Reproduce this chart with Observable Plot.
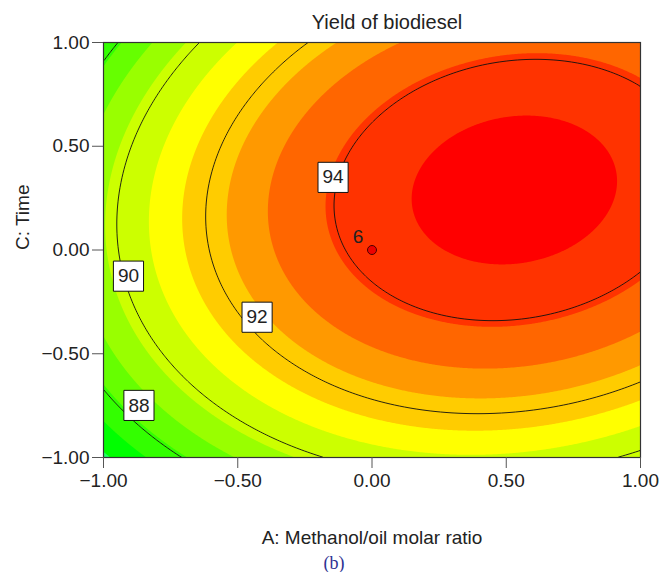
<!DOCTYPE html>
<html>
<head>
<meta charset="utf-8">
<script src="https://cdn.jsdelivr.net/npm/d3@7"></script>
<script src="https://cdn.jsdelivr.net/npm/@observablehq/plot@0.6"></script>
<style>
  body { margin: 0; background: #fff; }
  svg { display: block; }
</style>
</head>
<body>
<div id="chart"></div>
<script>
// ---- texts ----
const title = "Yield of biodiesel";
const xLabel = "A: Methanol/oil molar ratio";
const yLabel = "C: Time";
const caption = "(b)";

// ---- axes ----
const xTicks = [-1, -0.5, 0, 0.5, 1];
const yTicks = [-1, -0.5, 0, 0.5, 1];

// ---- fitted response-surface model (coded units) ----
// terms: intercept, A, C, AC, A², C²
const modelTerms = ["intercept", "A", "C", "AC", "A2", "C2"];
const modelCoefs = [94.25, 2.30, 1.22, 0.59, -2.33, -2.65];

// ---- contour lines and their labels ----
const lineLevels = [88, 90, 92, 94];
const labelLevels = [88, 90, 92, 94];
const labelA = [-0.868, -0.907, -0.428, -0.145];
const labelC = [-0.749, -0.126, -0.324, 0.350];

// ---- filled bands (boundaries) ----
const bandThresholds = [86.5, 87.3, 88.1, 88.9, 89.7, 90.78, 91.52, 92.4, 93.1, 93.9, 94.7];
const bandColors = ["#22ff66", "#00ff00", "#33ff00", "#66ff00", "#99ff00", "#ccff00",
                    "#ffff00", "#ffcc00", "#ff9900", "#ff6600", "#ff3300", "#ff0000"];

// ---- design point ----
const designA = [0];
const designC = [0];
const designRuns = ["6"];

const coef = Object.fromEntries(modelTerms.map((t, i) => [t, modelCoefs[i]]));
const yieldAt = (a, c) =>
  coef.intercept + coef.A * a + coef.C * c + coef.AC * a * c + coef.A2 * a * a + coef.C2 * c * c;

const fmt = d => d.toFixed(2).replace("-", "\u2212");
const font = "'Liberation Sans', Arial, Helvetica, sans-serif";

const plot = Plot.plot({
  width: 663,
  height: 572,
  marginLeft: 103,
  marginRight: 23,
  marginTop: 42,
  marginBottom: 115,
  style: { fontFamily: font, fontSize: "19px", color: "#222", background: "#fff" },
  x: { domain: [-1, 1] },
  y: { domain: [-1, 1] },
  color: { type: "threshold", domain: bandThresholds, range: bandColors },
  marks: [
    Plot.contour({
      x1: -1, y1: -1, x2: 1, y2: 1,
      value: yieldAt, fill: "value", stroke: "none",
      thresholds: [80, ...bandThresholds], pixelSize: 1
    }),
    Plot.contour({
      x1: -1, y1: -1, x2: 1, y2: 1,
      value: yieldAt, fill: "none", stroke: "#111", strokeWidth: 0.9,
      thresholds: lineLevels, pixelSize: 1
    }),
    Plot.frame({ stroke: "#333", strokeWidth: 1.2 }),
    Plot.axisX({ ticks: xTicks, tickFormat: fmt, tickSize: 11, tickPadding: 5, label: null, stroke: "#555" }),
    Plot.axisY({ ticks: yTicks, tickFormat: fmt, tickSize: 11, tickPadding: 3, label: null, stroke: "#555" }),
    // contour label boxes
    Plot.dot(labelLevels, {
      x: (d, i) => labelA[i], y: (d, i) => labelC[i],
      symbol: "square", r: 17, fill: "white", stroke: "#111", strokeWidth: 1
    }),
    Plot.text(labelLevels, {
      x: (d, i) => labelA[i], y: (d, i) => labelC[i],
      text: d => String(d), fontSize: 19, fill: "#222"
    }),
    // design point
    Plot.dot(designRuns, {
      x: (d, i) => designA[i], y: (d, i) => designC[i],
      r: 4.5, fill: "#ee0000", stroke: "#4a0000", strokeWidth: 1
    }),
    Plot.text(designRuns, {
      x: (d, i) => designA[i], y: (d, i) => designC[i],
      text: d => d, dx: -14, dy: -13, fontSize: 19, fill: "#222"
    }),
    // titles
    Plot.text([title], { frameAnchor: "top", lineAnchor: "middle", dy: -20, dx: 15, text: d => d, fontSize: 20, fill: "#222" }),
    Plot.text([yLabel], { frameAnchor: "left", lineAnchor: "middle", dx: -81, rotate: -90, text: d => d, fontSize: 19, fill: "#222" }),
    Plot.text([xLabel], { frameAnchor: "bottom", lineAnchor: "middle", dy: 80, text: d => d, fontSize: 19, fill: "#222" }),
    Plot.text([caption], {
      frameAnchor: "bottom", lineAnchor: "middle", dy: 106, dx: -38, text: d => d,
      fontSize: 18, fill: "#2e3192", fontFamily: "'Liberation Serif', 'Times New Roman', serif"
    })
  ]
});

document.getElementById("chart").appendChild(plot);
</script>
</body>
</html>
